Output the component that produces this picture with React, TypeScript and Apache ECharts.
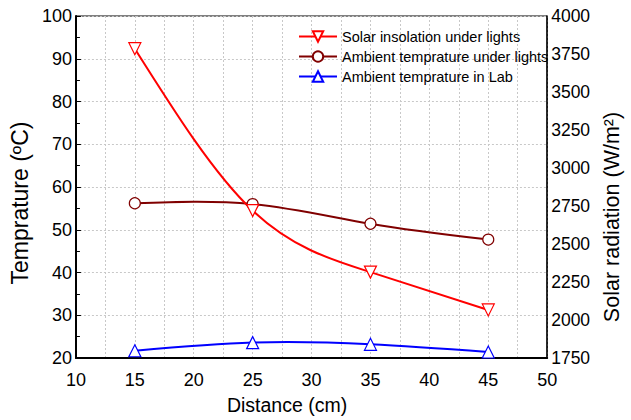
import React, { useEffect, useRef } from 'react';
import * as echarts from 'echarts';

const distances = [15, 25, 35, 45];
const solarInsolation = [3785, 2720, 2315, 2066];
const ambientUnderLights = [56.2, 56.0, 51.4, 47.7];
const ambientInLab = [21.7, 23.6, 23.2, 21.4];
const seriesNames = [
  'Solar insolation under lights',
  'Ambient temprature under lights',
  'Ambient temprature in Lab',
];

// Slopes of a natural cubic spline through (xs, ys)
function splineSlopes(xs: number[], ys: number[]): number[] {
  const n = xs.length;
  const h: number[] = [];
  for (let i = 0; i < n - 1; i++) h.push(xs[i + 1] - xs[i]);
  const M = new Array(n).fill(0);
  if (n > 2) {
    const a: number[] = [], b: number[] = [], c: number[] = [], d: number[] = [];
    for (let i = 1; i < n - 1; i++) {
      a.push(h[i - 1]);
      b.push(2 * (h[i - 1] + h[i]));
      c.push(h[i]);
      d.push(6 * ((ys[i + 1] - ys[i]) / h[i] - (ys[i] - ys[i - 1]) / h[i - 1]));
    }
    const m = b.length;
    for (let i = 1; i < m; i++) {
      const w = a[i] / b[i - 1];
      b[i] -= w * c[i - 1];
      d[i] -= w * d[i - 1];
    }
    const sol = new Array(m).fill(0);
    sol[m - 1] = d[m - 1] / b[m - 1];
    for (let i = m - 2; i >= 0; i--) sol[i] = (d[i] - c[i] * sol[i + 1]) / b[i];
    for (let i = 0; i < m; i++) M[i + 1] = sol[i];
  }
  const slopes: number[] = [];
  for (let i = 0; i < n - 1; i++) {
    slopes.push((ys[i + 1] - ys[i]) / h[i] - (h[i] * (2 * M[i] + M[i + 1])) / 6);
  }
  const k = n - 2;
  slopes.push((ys[k + 1] - ys[k]) / h[k] + (h[k] * (M[k] + 2 * M[k + 1])) / 6);
  return slopes;
}

export default function App() {
  const ref = useRef<HTMLDivElement>(null);
  useEffect(() => {
    const chart = echarts.init(ref.current!, null, { renderer: 'svg' });
    const font = '"Liberation Sans", Arial, sans-serif';
    const gridLine = { type: [2, 2], color: '#c8c8c8', width: 1 };
    const pairs = (ys: number[]) => distances.map((d, i) => [d, ys[i]]);

    const curve = (ys: number[], color: string, yAxisIndex: number, id: string) => ({
      id,
      name: id,
      type: 'custom',
      yAxisIndex,
      z: 2,
      silent: true,
      data: pairs(ys),
      encode: { x: 0, y: 1 },
      renderItem: (params: any, api: any) => {
        if (params.dataIndex !== 0) return null;
        const m = splineSlopes(distances, ys);
        const p0 = api.coord([distances[0], ys[0]]);
        let d = `M${p0[0]},${p0[1]}`;
        for (let i = 0; i < distances.length - 1; i++) {
          const h = distances[i + 1] - distances[i];
          const c1 = api.coord([distances[i] + h / 3, ys[i] + (m[i] * h) / 3]);
          const c2 = api.coord([distances[i + 1] - h / 3, ys[i + 1] - (m[i + 1] * h) / 3]);
          const p = api.coord([distances[i + 1], ys[i + 1]]);
          d += ` C${c1[0]},${c1[1]} ${c2[0]},${c2[1]} ${p[0]},${p[1]}`;
        }
        return {
          type: 'path',
          shape: { pathData: d },
          style: { stroke: color, lineWidth: 2, fill: 'none' },
        };
      },
    });

    const markers = (
      name: string,
      ys: number[],
      color: string,
      yAxisIndex: number,
      symbol: string,
      rotate: number,
      size: any
    ) => ({
      name,
      type: 'line',
      yAxisIndex,
      z: 3,
      data: pairs(ys),
      symbol,
      symbolRotate: rotate,
      symbolSize: size,
      lineStyle: { color, width: 2, opacity: 0 },
      itemStyle: { color: '#ffffff', borderColor: color, borderWidth: 1.2 },
    });

    chart.setOption({
      animation: false,
      backgroundColor: '#fff',
      textStyle: { fontFamily: font },
      grid: {
        left: 67.5,
        right: 77,
        top: 16,
        bottom: 59,
        show: true,
        borderColor: '#000',
        borderWidth: 1,
        backgroundColor: 'transparent',
      },
      legend: {
        data: seriesNames,
        orient: 'vertical',
        left: 298,
        top: 29,
        padding: 0,
        itemWidth: 38,
        itemHeight: 13,
        itemGap: 5,
        lineStyle: { width: 2, opacity: 1, color: 'inherit' },
        textStyle: { fontSize: 14.5, color: '#000', fontFamily: font },
      },
      xAxis: {
        type: 'value',
        min: 10,
        max: 50,
        interval: 5,
        name: 'Distance (cm)',
        nameLocation: 'middle',
        nameGap: 37,
        nameTextStyle: { fontSize: 19.5, color: '#000', padding: [0, 49, 0, 0] },
        axisLine: { show: true, lineStyle: { color: '#000', width: 2 } },
        axisTick: { show: false },
        axisLabel: { fontSize: 18, color: '#000', margin: 13 },
        splitLine: { show: true, lineStyle: gridLine },
        minorTick: { show: false, splitNumber: 2 },
        minorSplitLine: { show: true, lineStyle: gridLine },
      },
      yAxis: [
        {
          type: 'value',
          min: 20,
          max: 100,
          interval: 10,
          name: 'Temprature (ºC)',
          nameLocation: 'middle',
          nameGap: 25,
          nameTextStyle: { fontSize: 23, color: '#000', padding: [0, 32, 0, 0] },
          axisLine: { show: true, lineStyle: { color: '#000', width: 2 } },
          axisTick: { show: true, inside: true, length: 5, lineStyle: { color: '#000' } },
          minorTick: { show: true, splitNumber: 2, length: 4, lineStyle: { color: '#000' } },
          axisLabel: { fontSize: 18, color: '#000', margin: 4 },
          splitLine: { show: true, lineStyle: gridLine },
        },
        {
          type: 'value',
          min: 1750,
          max: 4000,
          interval: 250,
          position: 'right',
          name: 'Solar radiation (W/m²)',
          nameLocation: 'middle',
          nameGap: 51,
          nameTextStyle: { fontSize: 21.5, color: '#000', padding: [0, 60, 0, 0] },
          axisLine: { show: true, lineStyle: { color: '#000', width: 1.5 } },
          axisTick: { show: false },
          axisLabel: {
            fontSize: 17.5,
            color: '#000',
            margin: 4,
            formatter: (v: number) => String(v),
          },
          splitLine: { show: false },
        },
      ],
      series: [
        curve(ambientInLab, '#0000ff', 0, 'curve-lab'),
        curve(ambientUnderLights, '#800000', 0, 'curve-lights'),
        curve(solarInsolation, '#ff0000', 1, 'curve-solar'),
        markers(seriesNames[2], ambientInLab, '#0000ff', 0, 'triangle', 0, [12, 12]),
        markers(seriesNames[1], ambientUnderLights, '#800000', 0, 'circle', 0, 11),
        markers(seriesNames[0], solarInsolation, '#ff0000', 1, 'triangle', 180, [12, 12]),
      ],
    });
    return () => chart.dispose();
  }, []);
  return (
    <div
      ref={ref}
      style={{ width: 631, height: 420, position: 'absolute', left: 0, top: 0 }}
    />
  );
}
